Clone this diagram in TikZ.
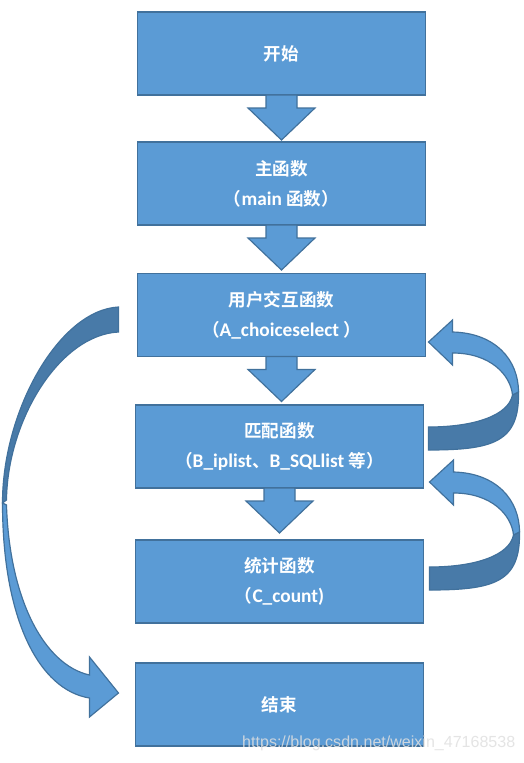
\documentclass[tikz,border=0pt]{standalone}
\usepackage{fontspec}
\usetikzlibrary{calc}
\setmainfont{Carlito}[Scale=1.1]
\newfontfamily\cjk{Noto Sans CJK SC}[BoldFont={Noto Sans CJK SC Bold}]
\newfontfamily\markfont{Liberation Sans}
\definecolor{boxfill}{RGB}{91,155,213}
\definecolor{boxline}{RGB}{65,113,156}
\definecolor{boxshade}{RGB}{72,122,168}
\tikzset{
  funcbox/.style={draw=boxline, fill=boxfill, line width=1.3pt, minimum width=8.64cm,
    minimum height=2.49cm, inner sep=0pt, outer sep=0pt, text=white, align=center,
    font=\bfseries\fontsize{15pt}{25.6pt}\selectfont},
  blockarrow/.style={draw=boxline, fill=boxfill, line width=1pt, line join=miter},
  backface/.style={draw=boxline, fill=boxshade, line width=1pt, line join=miter}
}
\begin{document}
\begin{tikzpicture}[x=0.03cm, y=-0.03cm]
  \def\downarrowpath{-- ++(-15.5,0) -- ++(0,13) -- ++(-18,0) -- ++(33.5,32) -- ++(33.5,-32) -- ++(-18,0) -- ++(0,-13) -- cycle}
  \def\loopfront{-- (24,-22) -- (24,-10) .. controls (67,-9) and (90,18) .. (90,50) -- (84,53) .. controls (82,33) and (62,11) .. (24,11) -- (24,23) -- cycle}
  \def\loopback{.. controls (91,100) and (65,108) .. (0,108) -- (0,85) .. controls (47,85) and (80,73) .. (84,53) -- cycle}
  \useasboundingbox[fill=white] (0,0) rectangle (523,763);
  % boxes
  \node[funcbox] (start) at (281.5,53.5) {{\cjk 开始}};
  \node[funcbox] (main) at (281.5,183.5) {{\cjk 主函数}\\{\cjk （}main {\cjk 函数）}};
  \node[funcbox] (user) at (281.5,315) {{\cjk 用户交互函数}\\{\cjk （}A\_choiceselect {\cjk ）}};
  \node[funcbox] (match) at (279.5,446.5) {{\cjk 匹配函数}\\{\cjk （}B\_iplist{\cjk 、}B\_SQLlist {\cjk 等）}};
  \node[funcbox] (count) at (279.5,581.5) {{\cjk 统计函数}\\{\cjk （}C\_count)};
  \node[funcbox] (stop) at (279.5,704.5) {{\cjk 结束}};
  % down arrows
  \draw[blockarrow] (start.south) \downarrowpath;
  \draw[blockarrow] (main.south) \downarrowpath;
  \draw[blockarrow] (user.south) \downarrowpath;
  \draw[blockarrow] (match.south) \downarrowpath;
  % loops back on the right
  \begin{scope}[shift={($(user.east)+(3,27)$)}]
    \draw[backface] (90,50) \loopback;
    \draw[blockarrow] (0,0) \loopfront;
  \end{scope}
  \begin{scope}[shift={($(match.east)+(6,35.5)$)}]
    \draw[backface] (90,50) \loopback;
    \draw[blockarrow] (0,0) \loopfront;
  \end{scope}
  % jump to the end on the left
  \begin{scope}[shift={(user.west)}]
    \draw[backface] (-19,-8) .. controls (-78,-5) and (-135,95) .. (-135,188) -- (-131,185)
      .. controls (-130,105) and (-78,20) .. (-19,17) -- cycle;
    \draw[blockarrow] (-135,188) .. controls (-135,305) and (-98,375) .. (-48,383) -- (-48,402)
      -- (-19,378) -- (-48,342) -- (-48,360) .. controls (-93,350) and (-128,285) .. (-131,190) -- cycle;
  \end{scope}
  \node[anchor=west, inner sep=0pt, text=black!12, text opacity=0.85,
    font=\markfont\fontsize{13.7pt}{16pt}\selectfont] (mark) at (242,743) {https://blog.csdn.net/weixin\_47168538};
\end{tikzpicture}
\end{document}
